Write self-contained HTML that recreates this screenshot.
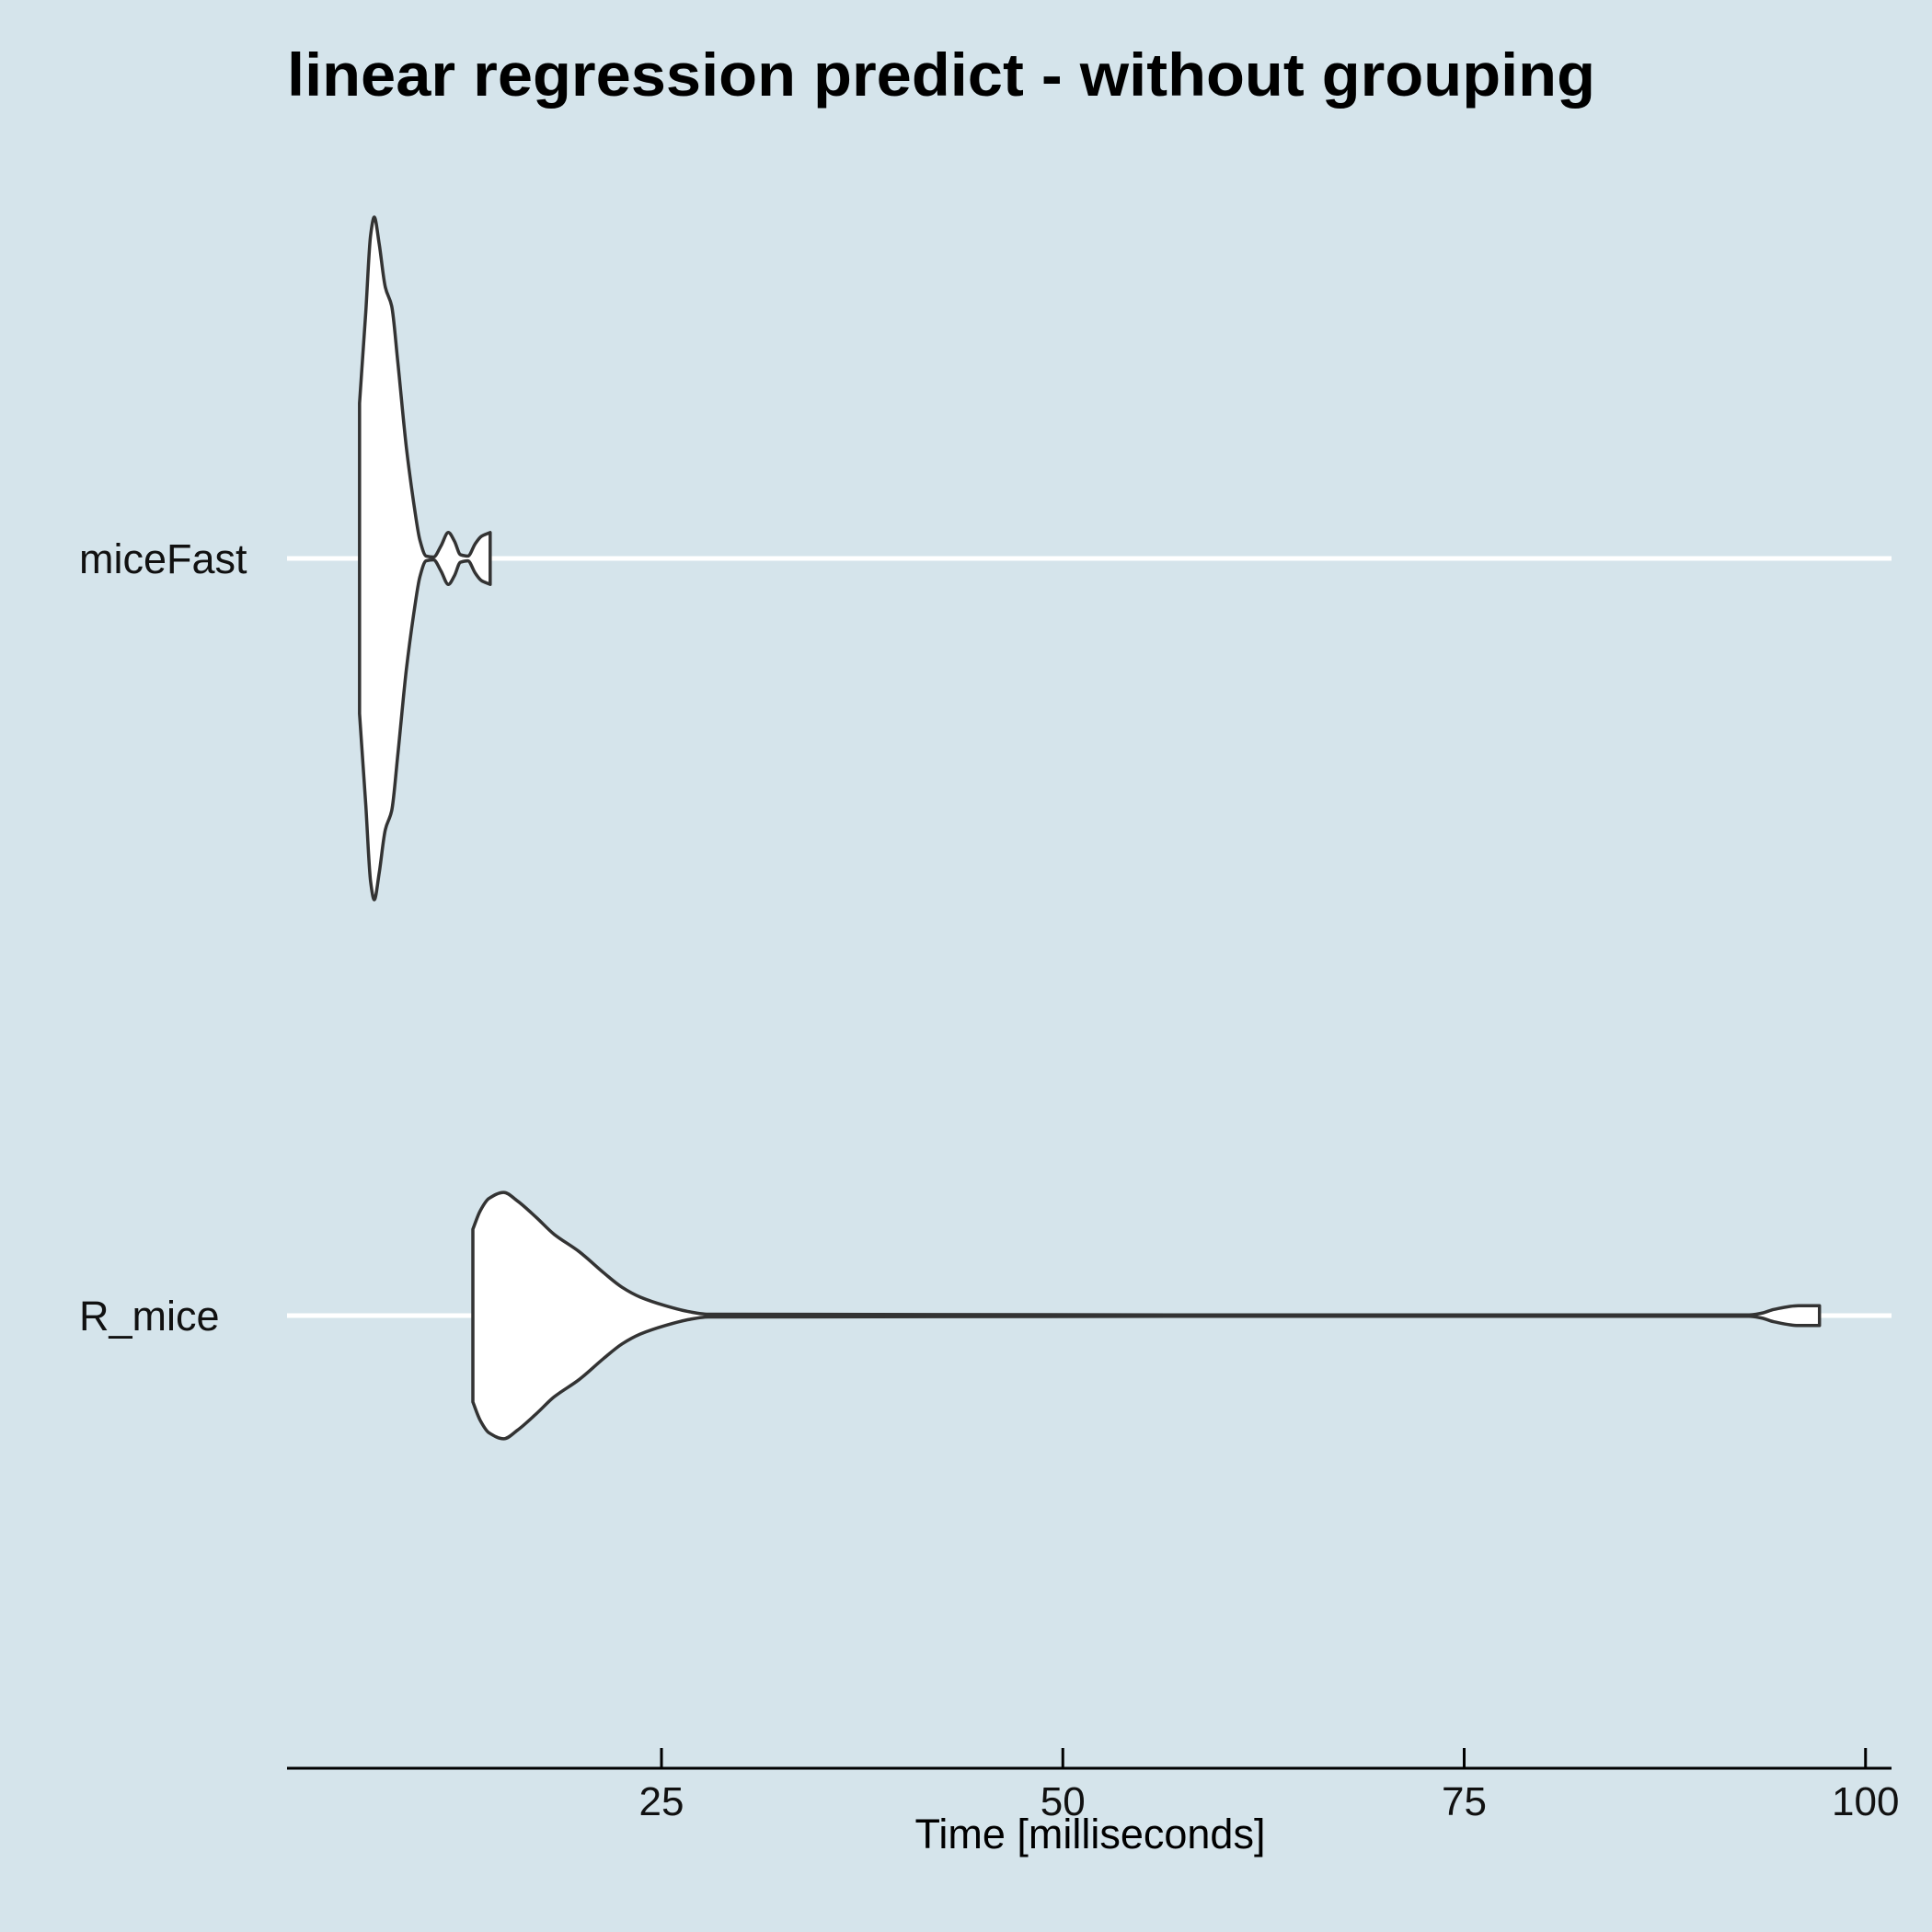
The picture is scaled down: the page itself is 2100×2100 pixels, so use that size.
<!DOCTYPE html>
<html><head><meta charset="utf-8"><style>
html,body{margin:0;padding:0;background:#d5e4eb;}
svg{display:block;}
text{font-family:"Liberation Sans",Arial,sans-serif;}
</style></head><body>
<svg id="chart" width="2100" height="2100" viewBox="0 0 2100 2100" xmlns="http://www.w3.org/2000/svg">
<rect width="2100" height="2100" fill="#d5e4eb"/>
<text x="312" y="104" font-size="66" font-weight="bold" fill="#000" textLength="1422" lengthAdjust="spacingAndGlyphs">linear regression predict - without grouping</text>
<g id="grid"></g>
<g id="violins"></g>
<g id="axis"></g>
<text x="1185" y="2009" font-size="45" text-anchor="middle" fill="#000">Time [milliseconds]</text>
</svg>
<script>
const categories = ["miceFast", "R_mice"];
const miceFastValues = [6.19,6.58,6.88,7.11,7.42,7.80,8.19,8.57,9.11,9.57,9.95,10.34,10.80,11.26,11.72,12.10,12.48,12.94,13.40,13.79,14.33];
const miceFastDensity = [0.455,0.722,0.946,1,0.921,0.794,0.740,0.578,0.325,0.162,0.054,0.007,0.004,0.036,0.076,0.051,0.011,0.007,0.043,0.065,0.076];
const rMiceValues = [13.25,13.71,14.25,15.17,16.02,17.17,18.32,19.86,21.39,22.54,23.69,25.23,26.76,27.91,60.5,92.75,93.52,94.29,95.82,97.13];
const rMiceDensity = [0.253,0.307,0.343,0.361,0.336,0.289,0.238,0.188,0.126,0.083,0.054,0.029,0.011,0.004,0.002,0.002,0.007,0.018,0.029,0.029];
const xTicks = [25, 50, 75, 100];

const NS = "http://www.w3.org/2000/svg";
const x0 = 312, x1 = 2056;
function xScale(v){ return 719 + (v - 25) * 17.45; }
function yScale(i){ return [607, 1430][i]; }
const maxHalf = 371;
function mk(tag, attrs, parent){ const e=document.createElementNS(NS,tag); for(const k in attrs) e.setAttribute(k, attrs[k]); parent.appendChild(e); return e; }
// monotone cubic in x (points sorted by x ascending)
function monoPath(pts){
  const n = pts.length, s = [], m = [];
  for(let i=0;i<n-1;i++) s.push((pts[i+1][1]-pts[i][1])/(pts[i+1][0]-pts[i][0]));
  for(let i=0;i<n;i++){
    if(i===0) m.push(s[0]); else if(i===n-1) m.push(s[n-2]);
    else m.push(s[i-1]*s[i] <= 0 ? 0 : 2/(1/s[i-1]+1/s[i]));
  }
  let d = '';
  for(let i=0;i<n-1;i++){
    const dx = (pts[i+1][0]-pts[i][0])/3;
    d += ' C'+(pts[i][0]+dx).toFixed(1)+','+(pts[i][1]+m[i]*dx).toFixed(1)+' '+
         (pts[i+1][0]-dx).toFixed(1)+','+(pts[i+1][1]-m[i+1]*dx).toFixed(1)+' '+
         pts[i+1][0].toFixed(1)+','+pts[i+1][1].toFixed(1);
  }
  return d;
}
function monoPathRev(pts){
  // pts ascending x; draw from last to first
  const n = pts.length, s = [], m = [];
  for(let i=0;i<n-1;i++) s.push((pts[i+1][1]-pts[i][1])/(pts[i+1][0]-pts[i][0]));
  for(let i=0;i<n;i++){
    if(i===0) m.push(s[0]); else if(i===n-1) m.push(s[n-2]);
    else m.push(s[i-1]*s[i] <= 0 ? 0 : 2/(1/s[i-1]+1/s[i]));
  }
  let d = '';
  for(let i=n-1;i>0;i--){
    const dx = (pts[i][0]-pts[i-1][0])/3;
    d += ' C'+(pts[i][0]-dx).toFixed(1)+','+(pts[i][1]-m[i]*dx).toFixed(1)+' '+
         (pts[i-1][0]+dx).toFixed(1)+','+(pts[i-1][1]+m[i-1]*dx).toFixed(1)+' '+
         pts[i-1][0].toFixed(1)+','+pts[i-1][1].toFixed(1);
  }
  return d;
}

const grid = document.getElementById('grid');
const violins = document.getElementById('violins');
const axis = document.getElementById('axis');
const series = [[miceFastValues, miceFastDensity],[rMiceValues, rMiceDensity]];

categories.forEach((c,i)=>{
  const y = yScale(i);
  const gl = mk('line',{x1:x0,x2:x1,y1:y,y2:y,stroke:'#fff','stroke-width':5},grid);
  
  
  const lbl = mk('text',{x:86,y:y+16,'font-size':45,fill:'#111'},grid);
  lbl.textContent = c;
  
  
  const [vals, dens] = series[i];
  const top = vals.map((v,j)=>[xScale(v), y - dens[j]*maxHalf]);
  const bot = vals.map((v,j)=>[xScale(v), y + dens[j]*maxHalf]);
  const last = bot[bot.length-1];
  const d = 'M'+top[0][0].toFixed(1)+','+top[0][1].toFixed(1) + monoPath(top) +
            ' L'+last[0].toFixed(1)+','+last[1].toFixed(1) + monoPathRev(bot) + ' Z';
  const p = mk('path',{d:d,fill:'#fff',stroke:'#333','stroke-width':3.5,'stroke-linejoin':'round'},violins);
  
  
});

const al = mk('line',{x1:x0,x2:x1,y1:1922,y2:1922,stroke:'#000','stroke-width':3},axis);


xTicks.forEach(t=>{
  const x = xScale(t);
  const tk = mk('line',{x1:x,x2:x,y1:1900,y2:1922,stroke:'#000','stroke-width':3},axis);
  
  
  const tl = mk('text',{x:x,y:1973,'font-size':44,'text-anchor':'middle',fill:'#111'},axis);
  tl.textContent = t;
  
  
});
</script>
</body></html>
